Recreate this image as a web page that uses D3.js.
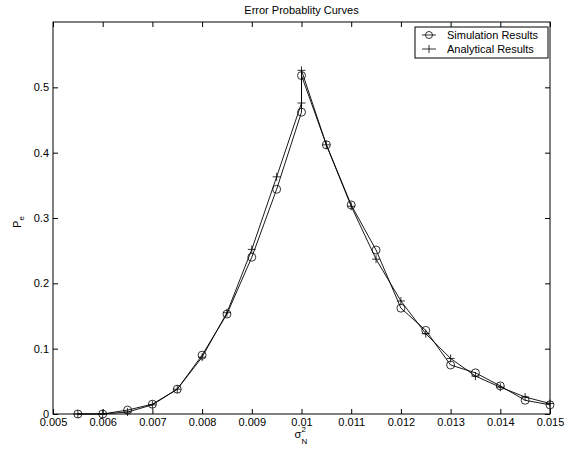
<!DOCTYPE html>
<html>
<head>
<meta charset="utf-8">
<script src="https://cdn.jsdelivr.net/npm/d3@7"></script>
<style>
  body { margin: 0; background: #fff; }
  svg { font-family: "Liberation Sans", Arial, sans-serif; }
</style>
</head>
<body>
<div id="chart"></div>
<script>
// Datos
const xValues = [0.0055, 0.006, 0.0065, 0.007, 0.0075, 0.008, 0.0085, 0.009, 0.0095, 0.01, 0.01,
                 0.0105, 0.011, 0.0115, 0.012, 0.0125, 0.013, 0.0135, 0.014, 0.0145, 0.015];
const simulation = [0, 0, 0.006, 0.015, 0.038, 0.090, 0.153, 0.240, 0.344, 0.462, 0.518,
                    0.412, 0.320, 0.251, 0.162, 0.128, 0.075, 0.063, 0.043, 0.021, 0.014];
const analytical = [0, 0, 0.003, 0.014, 0.038, 0.087, 0.155, 0.252, 0.363, 0.476, 0.526,
                    0.412, 0.318, 0.237, 0.173, 0.123, 0.085, 0.058, 0.041, 0.026, 0.016];
const xTicks = [0.005, 0.006, 0.007, 0.008, 0.009, 0.01, 0.011, 0.012, 0.013, 0.014, 0.015];
const yTicks = [0, 0.1, 0.2, 0.3, 0.4, 0.5];
const seriesNames = ["Simulation Results", "Analytical Results"];

const width = 564;
const height = 454;
const margin = { top: 22, right: 14, bottom: 40, left: 53 };

const svg = d3.select("#chart")
  .append("svg")
  .attr("width", width)
  .attr("height", height);

const xScale = d3.scaleLinear()
  .domain([0.005, 0.015])
  .range([margin.left, width - margin.right]);

const yScale = d3.scaleLinear()
  .domain([0, 0.6])
  .range([height - margin.bottom, margin.top]);

const fmt = d => String(+d.toFixed(3));

// Ejes con ticks hacia dentro
svg.append("g")
  .attr("transform", `translate(0, ${yScale(0)})`)
  .call(d3.axisBottom(xScale).tickValues(xTicks).tickSizeInner(-5).tickSizeOuter(0).tickPadding(4).tickFormat(fmt))
  .call(g => g.selectAll("text").attr("font-size", 11).attr("fill", "#000").attr("font-family", "Liberation Sans, Arial, sans-serif"));

svg.append("g")
  .attr("transform", `translate(0, ${yScale(0.6)})`)
  .call(d3.axisTop(xScale).tickValues(xTicks).tickSizeInner(-5).tickSizeOuter(0).tickFormat(""));

svg.append("g")
  .attr("transform", `translate(${xScale(0.005)}, 0)`)
  .call(d3.axisLeft(yScale).tickValues(yTicks).tickSizeInner(-5).tickSizeOuter(0).tickPadding(4).tickFormat(d => String(d)))
  .call(g => g.selectAll("text").attr("font-size", 11).attr("fill", "#000").attr("font-family", "Liberation Sans, Arial, sans-serif"));

svg.append("g")
  .attr("transform", `translate(${xScale(0.015)}, 0)`)
  .call(d3.axisRight(yScale).tickValues(yTicks).tickSizeInner(-5).tickSizeOuter(0).tickFormat(""));

svg.selectAll(".domain").remove();
svg.selectAll(".tick line").attr("stroke", "#000");

// Caja del grafico
svg.append("rect")
  .attr("x", xScale(0.005))
  .attr("y", yScale(0.6))
  .attr("width", xScale(0.015) - xScale(0.005))
  .attr("height", yScale(0) - yScale(0.6))
  .attr("fill", "none")
  .attr("stroke", "#000")
  .attr("stroke-width", 1);

// Lineas
const line = d3.line()
  .x((d, i) => xScale(xValues[i]))
  .y(d => yScale(d));

[simulation, analytical].forEach(serie => {
  svg.append("path")
    .datum(serie)
    .attr("d", line)
    .attr("fill", "none")
    .attr("stroke", "#000")
    .attr("stroke-width", 0.9);
});

// Marcadores: circulos y cruces
svg.append("g").selectAll("circle")
  .data(simulation)
  .enter()
  .append("circle")
  .attr("cx", (d, i) => xScale(xValues[i]))
  .attr("cy", d => yScale(d))
  .attr("r", 4)
  .attr("fill", "none")
  .attr("stroke", "#000")
  .attr("stroke-width", 0.8);

svg.append("g").selectAll("path")
  .data(analytical)
  .enter()
  .append("path")
  .attr("transform", (d, i) => `translate(${xScale(xValues[i])}, ${yScale(d)})`)
  .attr("d", "M-4,0H4M0,-4V4")
  .attr("fill", "none")
  .attr("stroke", "#000")
  .attr("stroke-width", 0.8);

// Titulo
svg.append("text")
  .attr("x", (xScale(0.005) + xScale(0.015)) / 2)
  .attr("y", 14)
  .attr("text-anchor", "middle")
  .attr("font-size", 11)
  .text("Error Probablity Curves");

// Etiqueta eje Y: P_e
const yLabel = svg.append("text")
  .attr("transform", `translate(21, ${(yScale(0) + yScale(0.6)) / 2 + 4}) rotate(-90)`)
  .attr("text-anchor", "middle")
  .attr("font-size", 11);
yLabel.append("tspan").text("P");
yLabel.append("tspan").attr("font-size", 8).attr("dy", 3).text("e");

// Etiqueta eje X: sigma_N^2
const xLabelX = (xScale(0.005) + xScale(0.015)) / 2 - 7;
svg.append("text")
  .attr("x", xLabelX)
  .attr("y", 438)
  .attr("font-size", 11)
  .text("σ");
svg.append("text")
  .attr("x", xLabelX + 7)
  .attr("y", 432)
  .attr("font-size", 8)
  .text("2");
svg.append("text")
  .attr("x", xLabelX + 7)
  .attr("y", 444)
  .attr("font-size", 8)
  .text("N");

// Leyenda
const legendX = 415, legendY = 27, legendW = 133, legendH = 31;
svg.append("rect")
  .attr("x", legendX)
  .attr("y", legendY)
  .attr("width", legendW)
  .attr("height", legendH)
  .attr("fill", "#fff")
  .attr("stroke", "#000")
  .attr("stroke-width", 1);

seriesNames.forEach((name, i) => {
  const cy = legendY + 8 + i * 14;
  svg.append("line")
    .attr("x1", legendX + 7).attr("x2", legendX + 21)
    .attr("y1", cy).attr("y2", cy)
    .attr("stroke", "#000").attr("stroke-width", 0.8);
  if (i === 0) {
    svg.append("circle")
      .attr("cx", legendX + 14).attr("cy", cy).attr("r", 3.5)
      .attr("fill", "none").attr("stroke", "#000").attr("stroke-width", 0.8);
  } else {
    svg.append("path")
      .attr("transform", `translate(${legendX + 14}, ${cy})`)
      .attr("d", "M0,-4V4")
      .attr("stroke", "#000").attr("stroke-width", 0.8);
  }
  svg.append("text")
    .attr("x", legendX + 32)
    .attr("y", cy + 4)
    .attr("font-size", 11)
    .text(name);
});
</script>
</body>
</html>
